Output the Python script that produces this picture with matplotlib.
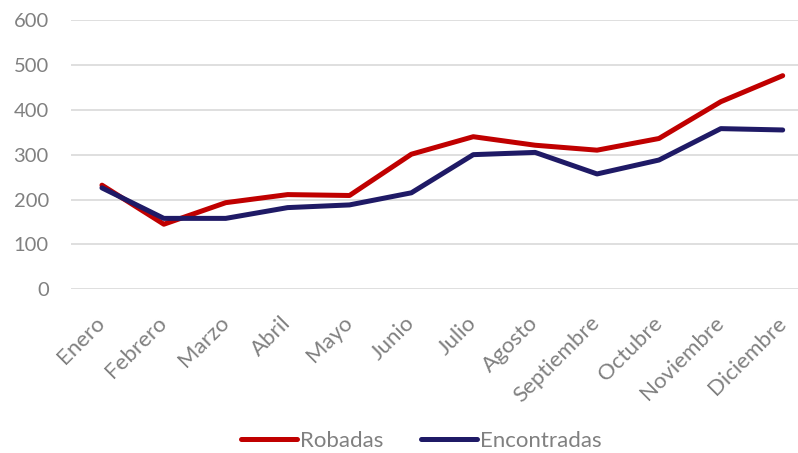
import matplotlib.pyplot as plt

meses = ["Enero", "Febrero", "Marzo", "Abril", "Mayo", "Junio", "Julio",
         "Agosto", "Septiembre", "Octubre", "Noviembre", "Diciembre"]
robadas = [232, 145, 193, 211, 209, 301, 340, 321, 310, 336, 418, 476]
encontradas = [226, 158, 158, 182, 188, 215, 300, 305, 257, 288, 358, 355]

plt.rcParams["font.family"] = ["Lato", "DejaVu Sans"]
gris = "#808080"

fig = plt.figure(figsize=(7.98, 4.53), dpi=100)
# plot area runs a bit past the right edge, like the original crop
ax = fig.add_axes([0.089, 0.3614, 0.9306, 0.5944])

x = range(len(meses))
ax.plot(x, robadas, color="#C00000", lw=3.6, solid_capstyle="round", label="Robadas")
ax.plot(x, encontradas, color="#1F1A66", lw=3.6, solid_capstyle="round", label="Encontradas")

ax.set_xlim(-0.5, len(meses) - 0.5)
ax.set_ylim(0, 600)
ax.set_yticks(range(0, 601, 100))
ax.grid(axis="y", color="#D9D9D9", lw=1.2)
ax.set_axisbelow(True)
for s in ax.spines.values():
    s.set_visible(False)

ax.set_xticks(list(x))
ax.set_xticklabels(meses, rotation=45, ha="right", va="center", rotation_mode="anchor", fontsize=16)
ax.tick_params(axis="both", length=0, labelcolor=gris)
ax.tick_params(axis="y", labelsize=14.5, pad=16)
ax.tick_params(axis="x", pad=22)

leg = fig.legend(loc="center", bbox_to_anchor=(0.528, 0.027), ncol=2, frameon=False,
                 fontsize=16, handlelength=2.5, handletextpad=0.15, columnspacing=1.7)
for t in leg.get_texts():
    t.set_color(gris)

fig.savefig("out.png", dpi=100)
